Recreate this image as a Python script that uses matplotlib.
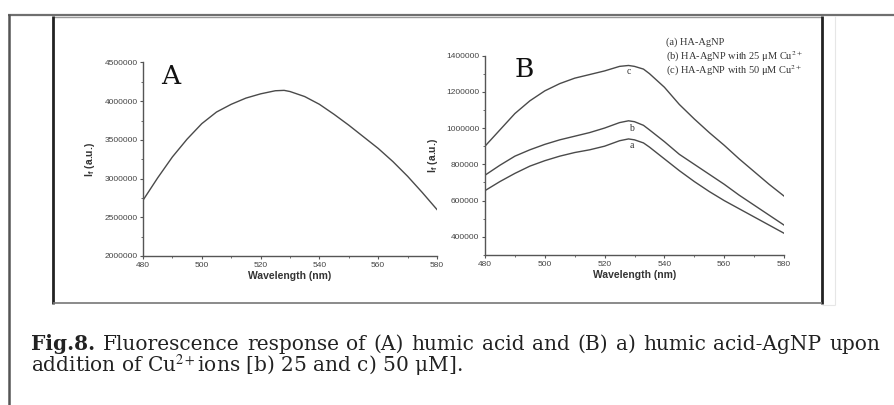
"""
plot.py
-------
Fluorescence response figure (A: humic acid, B: HA-AgNP with Cu2+),
redrawn as a scanned page: two panels, frame lines and a caption.

    python plot.py   ->  out.png
"""

import matplotlib
matplotlib.use("Agg")            # no display needed
import matplotlib.pyplot as plt
from matplotlib.lines import Line2D
from matplotlib.ticker import MultipleLocator, FuncFormatter

# ── data ──────────────────────────────────────────────────────────────────────
wl_a = [480, 485, 490, 495, 500, 505, 510, 515, 520, 525, 528, 530, 535,
        540, 545, 550, 555, 560, 565, 570, 575, 580]
if_humic = [2720000, 3010000, 3280000, 3510000, 3710000, 3860000, 3960000,
            4040000, 4095000, 4135000, 4140000, 4125000, 4060000, 3960000,
            3830000, 3690000, 3540000, 3390000, 3220000, 3030000, 2820000,
            2600000]

wl_b = [480, 485, 490, 495, 500, 505, 510, 515, 520, 525, 528, 530, 533, 535,
        540, 545, 550, 555, 560, 565, 570, 575, 580]
if_agnp = [655000, 705000, 750000, 790000, 820000, 845000, 865000, 880000,
           900000, 930000, 940000, 935000, 918000, 895000, 830000, 765000,
           705000, 650000, 600000, 555000, 510000, 465000, 420000]
if_cu25 = [740000, 795000, 845000, 880000, 910000, 935000, 955000, 975000,
           1000000, 1030000, 1040000, 1035000, 1015000, 990000, 925000,
           855000, 800000, 745000, 690000, 630000, 575000, 520000, 465000]
if_cu50 = [900000, 990000, 1080000, 1150000, 1205000, 1245000, 1275000,
           1295000, 1315000, 1340000, 1345000, 1340000, 1325000, 1300000,
           1225000, 1130000, 1050000, 975000, 905000, 830000, 760000, 690000,
           625000]

curve_tags = ["a", "b", "c"]
tag_pos = [(529, 905000), (529, 995000), (528, 1312000)]
legend_lines = ["(a) HA-AgNP",
                r"(b) HA-AgNP with 25 μM Cu$^{2+}$",
                r"(c) HA-AgNP with 50 μM Cu$^{2+}$"]

caption_bold = "Fig.8."
caption_line1 = ("Fluorescence response of (A) humic acid and (B) a) "
                 "humic acid-AgNP upon")
caption_line2 = r"addition of Cu$^{2+}$ions [b) 25 and c) 50 μM]."

W, H = 894, 405
LINE = "#555555"
TEXT = "#222222"


def px(x, y):
    """Pixel position (top-left origin) -> figure fraction."""
    return x / W, 1 - y / H


def frame_line(fig, x0, y0, x1, y1, color, lw):
    (fx0, fy0), (fx1, fy1) = px(x0, y0), px(x1, y1)
    fig.add_artist(Line2D([fx0, fx1], [fy0, fy1], transform=fig.transFigure,
                          color=color, lw=lw, solid_capstyle="butt"))


def justified_line(fig, words, x0, x1, y, **kw):
    """Lay words out one by one so the line fills x0..x1 (like the page)."""
    renderer = fig.canvas.get_renderer()
    arts, widths = [], []
    for word, weight in words:
        t = fig.text(0, px(0, y)[1], word, weight=weight, va="baseline",
                     ha="left", **kw)
        arts.append(t)
        widths.append(t.get_window_extent(renderer).width)
    gap = (x1 - x0 - sum(widths)) / (len(words) - 1)
    x = x0
    for t, w in zip(arts, widths):
        t.set_x(x / W)
        x += w + gap


# ── one panel ─────────────────────────────────────────────────────────────────
def style_axes(ax, ylim, ymajor, label_x):
    ax.set_xlim(480, 580)
    ax.set_ylim(*ylim)
    for side in ("top", "right"):
        ax.spines[side].set_visible(False)
    for side in ("left", "bottom"):
        ax.spines[side].set_color(LINE)
        ax.spines[side].set_linewidth(1.0)

    ax.xaxis.set_major_locator(MultipleLocator(20))
    ax.xaxis.set_minor_locator(MultipleLocator(10))
    ax.yaxis.set_major_locator(MultipleLocator(ymajor))
    ax.yaxis.set_minor_locator(MultipleLocator(ymajor / 2))
    # B starts at 300000, which carries no label in the original
    ax.yaxis.set_major_formatter(FuncFormatter(
        lambda v, _: "" if v % ymajor else f"{int(v)}"))
    ax.tick_params(which="major", direction="out", length=2.5, width=0.8,
                   color=LINE, pad=1.5, labelsize=6, labelcolor="#444444")
    ax.tick_params(which="minor", direction="out", length=1.5, width=0.6,
                   color=LINE)
    for lab in ax.get_xticklabels() + ax.get_yticklabels():
        lab.set_fontfamily("Liberation Sans")

    ax.set_xlabel("Wavelength (nm)", family="Liberation Sans", size=7.5,
                  weight="bold", color="#333333", labelpad=2)
    ax.set_ylabel(r"I$_\mathregular{f}$ (a.u.)", family="Liberation Sans",
                  size=7.5, weight="bold", color="#333333")
    ax.yaxis.set_label_coords(label_x, 0.5)


def main():
    plt.rcParams["mathtext.fontset"] = "stix"
    fig = plt.figure(figsize=(W / 100, H / 100), dpi=100)
    fig.patch.set_facecolor("white")

    # panel A
    ax_a = fig.add_axes([143 / W, 1 - 256 / H, 294 / W, 193.5 / H])
    ax_a.plot(wl_a, if_humic, color="#4a4a4a", lw=1.0)
    style_axes(ax_a, (2000000, 4500000), 500000, -0.157)
    ax_a.text(0.06, 0.93, "A", transform=ax_a.transAxes, family="DejaVu Serif",
              size=19, va="center", ha="left", color="#111111")

    # panel B
    ax_b = fig.add_axes([485 / W, 1 - 255 / H, 299 / W, 199.5 / H])
    for y, tag, pos in zip([if_agnp, if_cu25, if_cu50], curve_tags, tag_pos):
        ax_b.plot(wl_b, y, color="#4a4a4a", lw=1.0)
        ax_b.text(pos[0], pos[1], tag, family="Liberation Serif", size=7,
                  ha="center", va="center", color="#333333")
    style_axes(ax_b, (300000, 1400000), 200000, -0.15)
    ax_b.text(0.10, 0.93, "B", transform=ax_b.transAxes, family="DejaVu Serif",
              size=19, va="center", ha="left", color="#111111")

    for i, line in enumerate(legend_lines):
        fx, fy = px(666, 42 + 14.5 * i)
        fig.text(fx, fy, line, family="Liberation Serif", size=7.5,
                 va="center", ha="left", color="#333333")

    # ── page frame lines ─────────────────────────────────────────────────────
    frame_line(fig, 8, 15, 894, 15, "#6f6f6f", 1.6)      # outer top
    frame_line(fig, 9, 14, 9, 405, "#555555", 1.8)       # outer left
    frame_line(fig, 53, 17, 822, 17, "#9a9a9a", 1.0)     # picture top
    frame_line(fig, 53, 16, 53, 304, "#222222", 2.0)     # picture left
    frame_line(fig, 822, 16, 822, 304, "#222222", 2.0)   # picture right
    frame_line(fig, 53, 303, 822, 303, "#777777", 1.2)   # picture bottom
    frame_line(fig, 835, 16, 835, 305, "#e6e6e6", 0.8)
    frame_line(fig, 822, 305, 835, 305, "#e6e6e6", 0.8)

    # ── caption ──────────────────────────────────────────────────────────────
    words = [(caption_bold, "bold")] + [(w, "normal")
                                        for w in caption_line1.split()]
    justified_line(fig, words, 31, 880, 350, family="DejaVu Serif",
                   size=14.5, color=TEXT)
    fx, fy = px(31, 372)
    fig.text(fx, fy, caption_line2, family="DejaVu Serif", size=14.5,
             va="baseline", ha="left", color=TEXT)

    fig.savefig("out.png", dpi=100)
    plt.close(fig)


if __name__ == "__main__":
    main()
